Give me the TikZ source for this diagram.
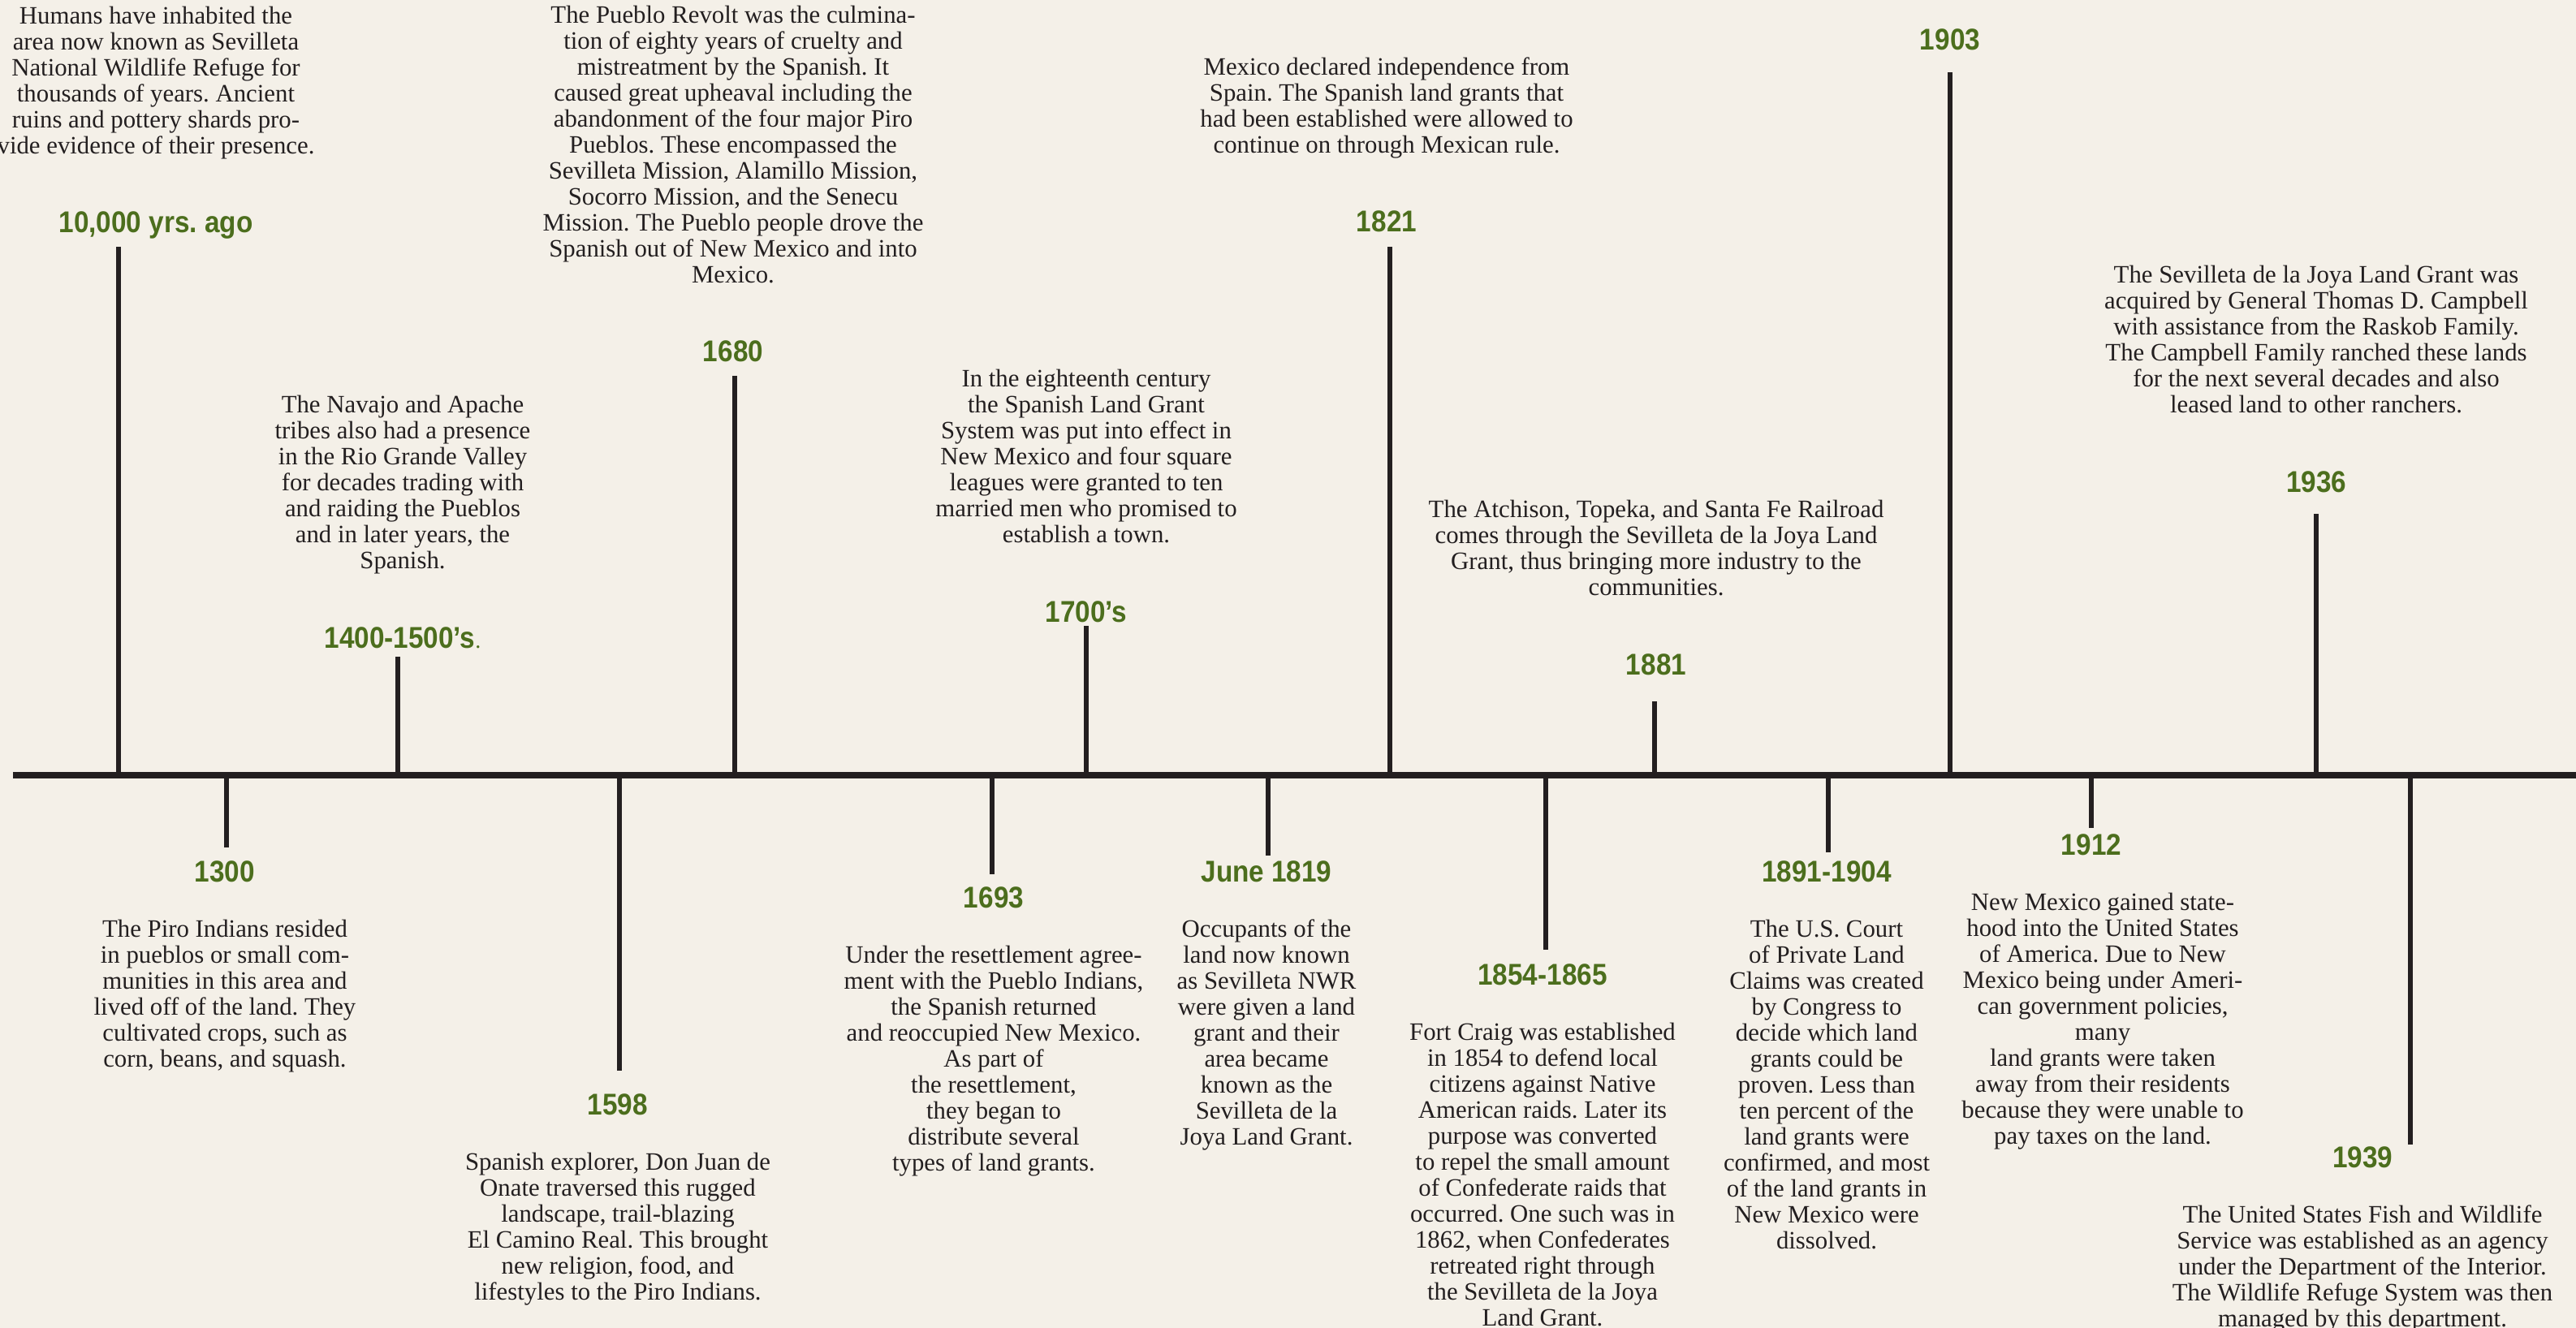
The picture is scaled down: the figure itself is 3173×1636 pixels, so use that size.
\documentclass[tikz,border=0pt]{standalone}
\usepackage{fontspec}
\setmainfont{Liberation Serif}
\newfontfamily\yearfont[FakeStretch=0.9]{Liberation Sans}
\usetikzlibrary{positioning}
\definecolor{paper}{HTML}{F4F0E8}
\definecolor{ink}{HTML}{231F20}
\definecolor{leaf}{HTML}{4C6E1D}
\frenchspacing

\begin{document}
\begin{tikzpicture}[x=0.5pt,y=-0.5pt,
  yr/.style={anchor=base, inner sep=0pt, text height=12.5pt, text depth=0pt,
    font=\yearfont\bfseries\fontsize{18.5}{18.5}\selectfont, text=leaf},
  desc/.style={align=center, inner sep=0pt, text=ink,
    font=\fontsize{15.4}{16}\selectfont},
  up/.style={text depth=0pt},
  tick/.style={ink, line width=3pt},
  timeline/.style={ink, line width=4pt}]
\fill[paper] (0,0) rectangle (3173,1636);
\useasboundingbox (0,0) rectangle (3173,1636);

% axis
\coordinate (axl) at (16,955);
\coordinate (axr) at (3173,955);
\draw[timeline] (axl) -- (axr);

% tick ends
\coordinate (t10000) at (146,304);
\coordinate (t1400) at (490,809);
\coordinate (t1680) at (905,463);
\coordinate (t1700) at (1338,771);
\coordinate (t1821) at (1712,304);
\coordinate (t1881) at (2038,864);
\coordinate (t1903) at (2402,89);
\coordinate (t1936) at (2853,633);
\coordinate (t1300) at (279,1044);
\coordinate (t1598) at (763,1319);
\coordinate (t1693) at (1222,1077);
\coordinate (t1819) at (1562,1054);
\coordinate (t1854) at (1904,1170);
\coordinate (t1891) at (2252,1050);
\coordinate (t1912) at (2576,1020);
\coordinate (t1939) at (2969,1410);

\draw[tick] (t10000) -- (t10000 |- axl);
\draw[tick] (t1400) -- (t1400 |- axl);
\draw[tick] (t1680) -- (t1680 |- axl);
\draw[tick] (t1700) -- (t1700 |- axl);
\draw[tick] (t1821) -- (t1821 |- axl);
\draw[tick] (t1881) -- (t1881 |- axl);
\draw[tick] (t1903) -- (t1903 |- axl);
\draw[tick] (t1936) -- (t1936 |- axl);
\draw[tick] (t1300) -- (t1300 |- axl);
\draw[tick] (t1598) -- (t1598 |- axl);
\draw[tick] (t1693) -- (t1693 |- axl);
\draw[tick] (t1819) -- (t1819 |- axl);
\draw[tick] (t1854) -- (t1854 |- axl);
\draw[tick] (t1891) -- (t1891 |- axl);
\draw[tick] (t1912) -- (t1912 |- axl);
\draw[tick] (t1939) -- (t1939 |- axl);

% above the line
\node[yr] (y10000) at (192,287) {10,000 yrs. ago};
\node[desc, up, above=36pt of y10000] (d10000) {Humans have inhabited the\\area now known as Sevilleta\\National Wildlife Refuge for\\thousands of years. Ancient\\ruins and pottery shards pro-\\vide evidence of their presence.};

\node[yr] (y1400) at (496,798) {1400-1500’s{\normalfont\mdseries\fontsize{14}{14}\selectfont .}};
\node[desc, up, above=36pt of y1400] (d1400) {The Navajo and Apache\\tribes also had a presence\\in the Rio Grande Valley\\for decades trading with\\and raiding the Pueblos\\and in later years, the\\Spanish.};

\node[yr] (y1680) at (903,446) {1680};
\node[desc, up, above=36pt of y1680] (d1680) {The Pueblo Revolt was the culmina-\\tion of eighty years of cruelty and\\mistreatment by the Spanish. It\\caused great upheaval including the\\abandonment of the four major Piro\\Pueblos. These encompassed the\\Sevilleta Mission, Alamillo Mission,\\Socorro Mission, and the Senecu\\Mission. The Pueblo people drove the\\Spanish out of New Mexico and into\\Mexico.};

\node[yr] (y1700) at (1338,766) {1700’s};
\node[desc, up, above=36pt of y1700] (d1700) {In the eighteenth century\\the Spanish Land Grant\\System was put into effect in\\New Mexico and four square\\leagues were granted to ten\\married men who promised to\\establish a town.};

\node[yr] (y1821) at (1708,286) {1821};
\node[desc, up, above=36pt of y1821] (d1821) {Mexico declared independence from\\Spain. The Spanish land grants that\\had been established were allowed to\\continue on through Mexican rule.};

\node[yr] (y1881) at (2040,831) {1881};
\node[desc, up, above=36pt of y1881] (d1881) {The Atchison, Topeka, and Santa Fe Railroad\\comes through the Sevilleta de la Joya Land\\Grant, thus bringing more industry to the\\communities.};

\node[yr] (y1903) at (2402,62) {1903};

\node[yr] (y1936) at (2853,606) {1936};
\node[desc, up, above=36pt of y1936] (d1936) {The Sevilleta de la Joya Land Grant was\\acquired by General Thomas D. Campbell\\with assistance from the Raskob Family.\\The Campbell Family ranched these lands\\for the next several decades and also\\leased land to other ranchers.};

% below the line
\node[yr] (y1300) at (277,1086) {1300};
\node[desc, below=23pt of y1300] (d1300) {The Piro Indians resided\\in pueblos or small com-\\munities in this area and\\lived off of the land. They\\cultivated crops, such as\\corn, beans, and squash.};

\node[yr] (y1598) at (761,1373) {1598};
\node[desc, below=23pt of y1598] (d1598) {Spanish explorer, Don Juan de\\Onate traversed this rugged\\landscape, trail-blazing\\El Camino Real. This brought\\new religion, food, and\\lifestyles to the Piro Indians.};

\node[yr] (y1693) at (1224,1118) {1693};
\node[desc, below=23pt of y1693] (d1693) {Under the resettlement agree-\\ment with the Pueblo Indians,\\the Spanish returned\\and reoccupied New Mexico.\\As part of\\the resettlement,\\they began to\\distribute several\\types of land grants.};

\node[yr] (y1819) at (1560,1086) {June 1819};
\node[desc, below=23pt of y1819] (d1819) {Occupants of the\\land now known\\as Sevilleta NWR\\were given a land\\grant and their\\area became\\known as the\\Sevilleta de la\\Joya Land Grant.};

\node[yr] (y1854) at (1900,1213) {1854-1865};
\node[desc, below=23pt of y1854] (d1854) {Fort Craig was established\\in 1854 to defend local\\citizens against Native\\American raids. Later its\\purpose was converted\\to repel the small amount\\of Confederate raids that\\occurred. One such was in\\1862, when Confederates\\retreated right through\\the Sevilleta de la Joya\\Land Grant.};

\node[yr] (y1891) at (2250,1086) {1891-1904};
\node[desc, below=23pt of y1891] (d1891) {The U.S. Court\\of Private Land\\Claims was created\\by Congress to\\decide which land\\grants could be\\proven. Less than\\ten percent of the\\land grants were\\confirmed, and most\\of the land grants in\\New Mexico were\\dissolved.};

\node[yr] (y1912) at (2576,1053) {1912};
\node[desc, below=23pt of y1912, xshift=7pt] (d1912) {New Mexico gained state-\\hood into the United States\\of America. Due to New\\Mexico being under Ameri-\\can government policies,\\many\\land grants were taken\\away from their residents\\because they were unable to\\pay taxes on the land.};

\node[yr] (y1939) at (2910,1438) {1939};
\node[desc, below=23pt of y1939] (d1939) {The United States Fish and Wildlife\\Service was established as an agency\\under the Department of the Interior.\\The Wildlife Refuge System was then\\managed by this department.};
\end{tikzpicture}
\end{document}
